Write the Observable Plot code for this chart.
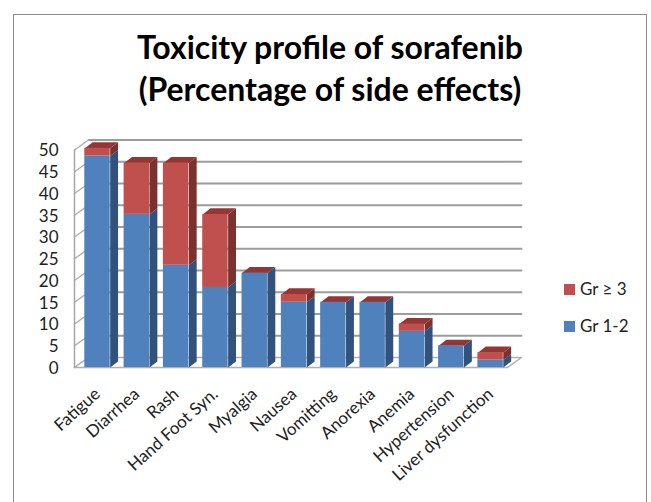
<!DOCTYPE html>
<html>
<head>
<meta charset="utf-8">
<script src="https://cdn.jsdelivr.net/npm/d3@7"></script>
<script src="https://cdn.jsdelivr.net/npm/@observablehq/plot@0.6"></script>
<style>
html,body{margin:0;padding:0;background:#fff;overflow:hidden;width:651px;height:502px}
#page{position:relative;width:651px;height:502px;overflow:hidden;font-family:Lato,sans-serif}
#frame{position:absolute;left:13px;top:14px;width:634px;height:600px;border:1.5px solid #8c8c8c;box-sizing:border-box}
#title{position:absolute;left:0;top:26px;width:660px;text-align:center;font-size:32px;font-weight:700;line-height:42px;color:#000}
#chart{position:absolute;left:0;top:120px}
#chart svg{display:block;background:transparent}
.lg{position:absolute;left:564px;font-size:17px;color:#222;line-height:18px;white-space:nowrap}
.lg i{display:inline-block;width:11px;height:11px;margin-right:5px}
</style>
</head>
<body>
<div id="page">
  <div id="frame"></div>
  <div id="title">Toxicity profile of sorafenib<br>(Percentage of side effects)</div>
  <div id="chart"></div>
  <div class="lg" style="top:280px"><i style="background:#C0504D"></i>Gr ≥ 3</div>
  <div class="lg" style="top:317px"><i style="background:#4F81BD"></i>Gr 1-2</div>
</div>
<script>
const categories = ["Fatigue","Diarrhea","Rash","Hand Foot Syn.","Myalgia","Nausea","Vomitting","Anorexia","Anemia","Hypertension","Liver dysfunction"];
const gr12 = [48.6,35.2,23.5,18.4,21.7,15,15,15,8.3,5,1.7];
const gr3  = [1.8,11.8,23.5,16.8,0,1.8,0,0,1.7,0,1.7];
const yTicks = [0,5,10,15,20,25,30,35,40,45,50];

// chart box and depth, in data units
const x0 = -0.585, x1 = 10.43, halfW = 0.323;
const wallDx = 0.356, wallDy = 2.3, barDx = 0.2, barDy = 1.4;

const idx = categories.map((_, i) => i);
const seg = (y1s, y2s) => idx.map(i => ({i, y1: y1s[i], y2: y2s[i]})).filter(d => d.y2 > d.y1);
const zeros = idx.map(() => 0);
const tops = idx.map(i => gr12[i] + gr3[i]);
const blue = seg(zeros, gr12);
const red = seg(gr12, tops);

const side = rows => rows.flatMap(d => [
  {id: d.i, x: d.i + halfW, y: d.y1},
  {id: d.i, x: d.i + halfW + barDx, y: d.y1 + barDy},
  {id: d.i, x: d.i + halfW + barDx, y: d.y2 + barDy},
  {id: d.i, x: d.i + halfW, y: d.y2}
]);
const cap = idx.flatMap(i => [
  {id: i, x: i - halfW, y: tops[i]},
  {id: i, x: i - halfW + barDx, y: tops[i] + barDy},
  {id: i, x: i + halfW + barDx, y: tops[i] + barDy},
  {id: i, x: i + halfW, y: tops[i]}
]);
const floor = [
  {x: x0, y: 0},{x: x0 + wallDx, y: wallDy},{x: x1 + wallDx, y: wallDy},{x: x1, y: 0},{x: x0, y: 0}
];
const gridBack = yTicks.filter(t => t > 0).flatMap(t => [
  {t, x: x0 + wallDx, y: t + wallDy},{t, x: x1 + wallDx, y: t + wallDy}
]);
const gridLeft = yTicks.flatMap(t => [
  {t, x: x0, y: t},{t, x: x0 + wallDx, y: t + wallDy}
]);
const axisLine = [{x: x0, y: 0},{x: x0, y: 50}];
const polyOpts = (fill) => ({x: "x", y: "y", z: "id", fill, stroke: "none"});
const rectOpts = (fill) => ({x1: d => d.i - halfW, x2: d => d.i + halfW, y1: "y1", y2: "y2", fill, inset: 0});

const plot = Plot.plot({
  width: 651,
  height: 382,
  marginLeft: 74,
  marginRight: 144,
  marginTop: 29.5,
  marginBottom: 135,
  x: {type: "linear", domain: [x0, x1], axis: null},
  y: {domain: [0, 50], axis: null},
  style: {fontFamily: "Lato, sans-serif", background: "transparent", overflow: "visible"},
  marks: [
    Plot.line(gridBack, {x: "x", y: "y", z: "t", stroke: "#9c9c9c", strokeWidth: 1.8}),
    Plot.line(gridLeft, {x: "x", y: "y", z: "t", stroke: "#b0b0b0", strokeWidth: 1.5}),
    Plot.line(floor, {x: "x", y: "y", stroke: "#b0b0b0", strokeWidth: 1.5, fill: "#fff"}),
    Plot.line(axisLine, {x: "x", y: "y", stroke: "#a6a6a6", strokeWidth: 1.5}),
    Plot.line(side(blue), polyOpts("#30527C")),
    Plot.line(side(red), polyOpts("#7D312F")),
    Plot.line(cap, polyOpts("#943634")),
    Plot.rect(blue, rectOpts("#4F81BD")),
    Plot.rect(red, rectOpts("#C0504D")),
    Plot.text(yTicks, {
      x: () => x0, y: d => d, text: d => String(d),
      textAnchor: "end", dx: -16, dy: 1, fontSize: 17, fill: "#222"
    }),
    Plot.text(idx, {
      x: d => d, y: () => 0, text: d => categories[d],
      textAnchor: "end", rotate: -42, dx: 0, dy: 24, fontSize: 17, fill: "#222"
    })
  ]
});
document.getElementById("chart").appendChild(plot);
</script>
</body>
</html>
